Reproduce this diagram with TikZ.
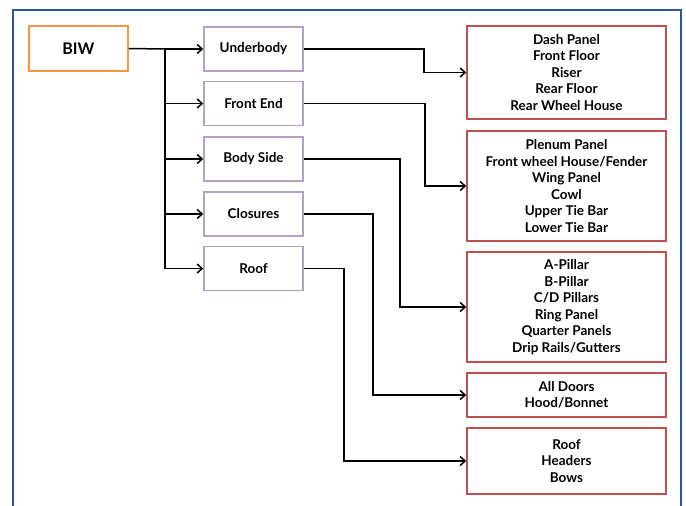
\documentclass[tikz,border=0pt]{standalone}
\usepackage{fontspec}
\setmainfont{Lato}
\usetikzlibrary{arrows.meta,calc}
\definecolor{frameblue}{HTML}{2E5597}
\definecolor{biworange}{HTML}{F79646}
\definecolor{midpurple}{HTML}{B3A2C7}
\definecolor{partred}{HTML}{C0504D}
\tikzset{
  box/.style={draw, line width=1.5pt, rectangle, align=center, inner sep=0pt,
    font=\fontsize{13.5}{16.5}\selectfont\bfseries, text=black},
  biwbox/.style={box, draw=biworange, minimum width=99pt, minimum height=45pt, font=\fontsize{16}{18}\selectfont\bfseries},
  midbox/.style={box, draw=midpurple, minimum width=99pt, minimum height=44pt},
  partbox/.style={box, draw=partred, minimum width=199pt},
  conn/.style={draw=black, line width=1.5pt, -{Straight Barb[length=5pt,width=9pt,line width=1.5pt]}},
}
\begin{document}
\begin{tikzpicture}[x=1pt,y=-1pt]
\useasboundingbox (0,0) rectangle (686,506);
\draw[frameblue, line width=2.5pt] (13,530) -- (13,10) -- (681,10) -- (681,530);

\node[biwbox] (biw) at (78.5,48.5) {BIW};

\node[midbox] (ub) at (253.5,49) {Underbody};
\node[midbox] (fe) at (253.5,103.5) {Front End};
\node[midbox] (bs) at (253.5,159) {Body Side};
\node[midbox] (cl) at (253.5,214) {Closures};
\node[midbox] (rf) at (253.5,268.5) {Roof};

\node[partbox, minimum height=93pt] (p1) at (566.5,72.5) {Dash Panel\\Front Floor\\Riser\\Rear Floor\\Rear Wheel House};
\node[partbox, minimum height=110pt] (p2) at (566.5,186) {Plenum Panel\\Front wheel House/Fender\\Wing Panel\\Cowl\\Upper Tie Bar\\Lower Tie Bar};
\node[partbox, minimum height=110pt] (p3) at (566.5,307) {A-Pillar\\B-Pillar\\C/D Pillars\\Ring Panel\\Quarter Panels\\Drip Rails/Gutters};
\node[partbox, minimum height=44pt] (p4) at (566.5,395) {All Doors\\Hood/Bonnet};
\node[partbox, minimum height=66pt] (p5) at (566.5,461) {Roof\\Headers\\Bows};

% trunk
\coordinate (tr) at (165,49);
\coordinate (trb) at (165,268.5);
\draw[line width=1.5pt] (biw.east) -- (tr) -- (trb);
\draw[conn] (tr) -- (ub.west);
\draw[conn] (tr) |- (fe.west);
\draw[conn] (tr) |- (bs.west);
\draw[conn] (tr) |- (cl.west);
\draw[conn] (tr) |- (rf.west);

% bend columns
\coordinate (b1) at (424,0);
\coordinate (b2) at (425,0);
\coordinate (b3) at (400,0);
\coordinate (b4) at (373,0);
\coordinate (b5) at (344,0);
\draw[conn] (ub.east) -- (ub.east -| b1) |- (p1.west);
\draw[conn] (fe.east) -- (fe.east -| b2) |- (p2.west);
\draw[conn] (bs.east) -- (bs.east -| b3) |- (p3.west);
\draw[conn] (cl.east) -- (cl.east -| b4) |- (p4.west);
\draw[conn] (rf.east) -- (rf.east -| b5) |- (p5.west);
\end{tikzpicture}
\end{document}
